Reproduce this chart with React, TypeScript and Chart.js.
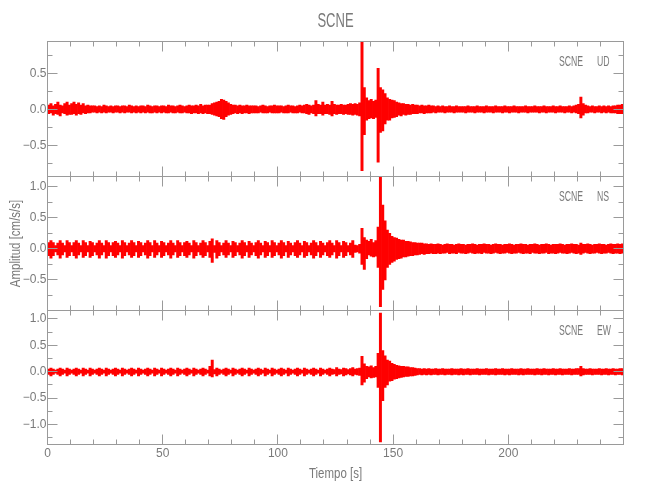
import React, { useEffect, useRef } from "react";
import { Chart, registerables } from "chart.js";

Chart.register(...registerables);

// ---------- data (1-second bins, lower / upper trace envelope, cm/s/s) ----------
const STATION = "SCNE";
const COMPONENTS = ["UD", "NS", "EW"];
const TITLE_X = "Tiempo [s]";
const TITLE_Y = "Amplitud [cm/s/s]";
const TIME_START = 0; // s
const BIN_SECONDS = 1; // s
const X_MIN = 0;
const X_MAX = 250;
const X_LAST_LABEL = 200;
const X_TICK_STEP = 50;
const Y_TICK_STEP = 0.5;

const UD_HI = [
  .06,.08,.05,.07,.10,.06,.05,.08,.10,.06,
  .08,.10,.07,.09,.06,.08,.05,.06,.05,.05,
  .05,.04,.05,.04,.06,.05,.04,.05,.04,.05,
  .05,.04,.05,.05,.04,.06,.05,.04,.05,.04,
  .05,.05,.04,.06,.05,.04,.05,.05,.04,.05,
  .05,.04,.06,.05,.05,.04,.05,.06,.05,.04,
  .05,.06,.05,.05,.06,.05,.07,.05,.06,.06,
  .06,.08,.09,.10,.11,.14,.13,.11,.09,.07,
  .06,.06,.05,.06,.05,.05,.06,.05,.05,.05,
  .05,.04,.05,.06,.05,.04,.05,.05,.06,.05,
  .05,.05,.04,.05,.06,.05,.05,.04,.05,.06,
  .05,.06,.07,.06,.05,.06,.12,.07,.06,.10,
  .06,.07,.06,.11,.07,.06,.06,.07,.06,.06,
  .07,.08,.07,.08,.07,.09,.93,.30,.16,.12,
  .14,.11,.13,.57,.30,.27,.22,.16,.14,.13,
  .12,.10,.09,.08,.08,.07,.07,.06,.07,.06,
  .06,.05,.06,.05,.05,.06,.05,.05,.04,.05,
  .04,.05,.04,.04,.05,.04,.04,.05,.04,.04,
  .04,.04,.05,.04,.04,.04,.05,.04,.04,.04,
  .05,.04,.04,.04,.05,.04,.04,.04,.05,.04,
  .04,.04,.05,.04,.04,.04,.04,.05,.04,.04,
  .04,.05,.04,.04,.04,.05,.04,.04,.04,.05,
  .04,.04,.05,.04,.04,.04,.05,.04,.05,.06,
  .07,.17,.08,.06,.05,.04,.05,.04,.04,.05,
  .04,.05,.04,.05,.04,.05,.05,.06,.06,.07,
];
const UD_LO = [
  -.06,-.05,-.08,-.06,-.07,-.09,-.05,-.06,-.08,-.07,
  -.07,-.06,-.08,-.06,-.07,-.05,-.06,-.05,-.05,-.04,
  -.04,-.05,-.04,-.05,-.04,-.05,-.04,-.04,-.05,-.04,
  -.04,-.05,-.04,-.05,-.04,-.04,-.05,-.04,-.05,-.04,
  -.05,-.04,-.05,-.04,-.05,-.05,-.04,-.05,-.04,-.05,
  -.04,-.05,-.05,-.04,-.05,-.05,-.04,-.05,-.05,-.04,
  -.05,-.05,-.06,-.05,-.05,-.06,-.05,-.06,-.05,-.06,
  -.06,-.07,-.08,-.09,-.10,-.13,-.14,-.10,-.08,-.07,
  -.06,-.05,-.06,-.05,-.06,-.05,-.05,-.06,-.05,-.05,
  -.05,-.05,-.04,-.05,-.05,-.05,-.04,-.05,-.05,-.05,
  -.05,-.04,-.05,-.05,-.05,-.04,-.05,-.05,-.05,-.04,
  -.05,-.05,-.06,-.07,-.05,-.06,-.09,-.06,-.06,-.08,
  -.06,-.06,-.07,-.09,-.06,-.07,-.06,-.06,-.07,-.06,
  -.07,-.07,-.08,-.07,-.08,-.09,-.85,-.35,-.15,-.13,
  -.12,-.13,-.11,-.73,-.32,-.30,-.20,-.15,-.15,-.12,
  -.11,-.10,-.08,-.09,-.07,-.08,-.07,-.07,-.06,-.06,
  -.06,-.05,-.05,-.06,-.05,-.05,-.05,-.04,-.05,-.04,
  -.04,-.04,-.05,-.04,-.04,-.04,-.05,-.04,-.04,-.04,
  -.04,-.05,-.04,-.04,-.04,-.05,-.04,-.04,-.04,-.05,
  -.04,-.04,-.04,-.05,-.04,-.04,-.04,-.05,-.04,-.04,
  -.05,-.04,-.04,-.04,-.05,-.04,-.04,-.04,-.05,-.04,
  -.04,-.04,-.04,-.05,-.04,-.04,-.05,-.04,-.04,-.04,
  -.05,-.04,-.04,-.04,-.05,-.04,-.04,-.05,-.04,-.05,
  -.06,-.12,-.08,-.05,-.05,-.04,-.04,-.05,-.04,-.04,
  -.05,-.04,-.05,-.04,-.05,-.05,-.05,-.06,-.06,-.06,
];
const NS_HI = [
  .10,.13,.10,.05,.09,.13,.09,.05,.13,.10,
  .05,.10,.13,.09,.05,.13,.10,.05,.12,.10,
  .05,.09,.13,.09,.05,.13,.10,.05,.10,.12,
  .09,.05,.13,.10,.05,.09,.13,.10,.05,.12,
  .10,.05,.09,.13,.10,.05,.13,.09,.05,.12,
  .10,.05,.09,.13,.09,.05,.13,.10,.05,.10,
  .12,.09,.05,.13,.10,.05,.09,.13,.10,.05,
  .12,.16,.05,.13,.10,.05,.09,.13,.09,.05,
  .12,.10,.05,.09,.13,.10,.05,.12,.09,.05,
  .10,.13,.09,.05,.12,.10,.05,.13,.10,.05,
  .09,.13,.10,.05,.12,.09,.05,.10,.13,.09,
  .05,.12,.10,.05,.09,.13,.10,.05,.12,.09,
  .05,.10,.13,.09,.05,.13,.10,.05,.12,.10,
  .05,.09,.13,.06,.05,.07,.33,.18,.14,.12,
  .15,.10,.13,.35,1.15,.70,.45,.30,.25,.20,
  .18,.17,.15,.14,.14,.12,.12,.11,.10,.10,
  .09,.09,.09,.08,.08,.07,.08,.07,.07,.08,
  .07,.06,.07,.08,.07,.07,.06,.07,.08,.07,
  .07,.06,.07,.07,.08,.07,.06,.07,.07,.08,
  .07,.07,.06,.07,.08,.07,.07,.06,.07,.07,
  .08,.07,.06,.07,.07,.08,.07,.07,.06,.07,
  .07,.08,.07,.06,.07,.07,.08,.07,.06,.07,
  .07,.07,.08,.07,.06,.07,.07,.08,.07,.07,
  .06,.09,.07,.07,.08,.07,.06,.07,.07,.08,
  .07,.07,.06,.07,.08,.07,.07,.08,.07,.08,
];
const NS_LO = [
  -.11,-.15,-.11,-.05,-.10,-.15,-.10,-.05,-.14,-.11,
  -.05,-.11,-.15,-.10,-.05,-.14,-.11,-.05,-.14,-.11,
  -.05,-.10,-.15,-.10,-.05,-.15,-.11,-.05,-.11,-.14,
  -.10,-.05,-.15,-.11,-.05,-.10,-.14,-.11,-.05,-.14,
  -.11,-.05,-.10,-.15,-.11,-.05,-.14,-.10,-.05,-.14,
  -.11,-.05,-.10,-.15,-.10,-.05,-.14,-.11,-.05,-.11,
  -.14,-.10,-.05,-.15,-.11,-.05,-.10,-.14,-.11,-.05,
  -.14,-.22,-.06,-.15,-.11,-.05,-.10,-.14,-.10,-.05,
  -.14,-.11,-.05,-.10,-.15,-.11,-.05,-.14,-.10,-.05,
  -.11,-.15,-.10,-.05,-.14,-.11,-.05,-.14,-.11,-.05,
  -.10,-.15,-.11,-.05,-.14,-.10,-.05,-.11,-.14,-.10,
  -.05,-.14,-.11,-.05,-.10,-.15,-.11,-.05,-.14,-.10,
  -.05,-.11,-.14,-.10,-.05,-.15,-.11,-.05,-.14,-.11,
  -.05,-.10,-.14,-.06,-.05,-.07,-.25,-.33,-.16,-.10,
  -.12,-.13,-.12,-.30,-.93,-.65,-.50,-.30,-.25,-.22,
  -.20,-.17,-.16,-.15,-.13,-.13,-.12,-.11,-.11,-.10,
  -.10,-.09,-.08,-.09,-.08,-.08,-.07,-.08,-.08,-.07,
  -.08,-.07,-.07,-.06,-.08,-.07,-.07,-.08,-.06,-.07,
  -.07,-.08,-.07,-.06,-.07,-.08,-.07,-.07,-.08,-.06,
  -.07,-.07,-.08,-.07,-.06,-.07,-.08,-.07,-.07,-.06,
  -.07,-.08,-.07,-.07,-.06,-.07,-.08,-.07,-.07,-.08,
  -.06,-.07,-.07,-.08,-.07,-.07,-.06,-.08,-.07,-.07,
  -.08,-.07,-.06,-.07,-.07,-.08,-.07,-.06,-.07,-.08,
  -.07,-.09,-.07,-.06,-.07,-.08,-.07,-.07,-.06,-.07,
  -.08,-.07,-.07,-.06,-.07,-.08,-.07,-.07,-.08,-.07,
];
const EW_HI = [
  .05,.07,.05,.03,.05,.07,.05,.03,.07,.05,
  .03,.05,.07,.05,.03,.07,.05,.03,.07,.05,
  .03,.05,.07,.05,.03,.07,.05,.03,.05,.07,
  .05,.03,.07,.05,.03,.05,.07,.05,.03,.07,
  .05,.03,.05,.07,.05,.03,.07,.05,.03,.07,
  .05,.03,.05,.07,.05,.03,.07,.05,.03,.05,
  .07,.05,.03,.07,.05,.03,.05,.07,.05,.03,
  .10,.22,.04,.07,.05,.03,.05,.07,.05,.03,
  .07,.05,.03,.05,.07,.05,.03,.07,.05,.03,
  .05,.07,.05,.03,.07,.05,.03,.07,.05,.03,
  .05,.07,.05,.03,.07,.05,.03,.05,.07,.05,
  .03,.07,.05,.03,.05,.07,.05,.03,.07,.05,
  .03,.05,.07,.05,.04,.08,.05,.04,.07,.06,
  .04,.06,.08,.05,.06,.07,.29,.15,.10,.09,
  .11,.08,.10,.35,1.11,.40,.30,.22,.20,.16,
  .14,.12,.11,.10,.10,.09,.09,.08,.08,.07,
  .06,.06,.05,.06,.05,.06,.05,.05,.06,.05,
  .05,.06,.05,.05,.05,.06,.05,.05,.05,.06,
  .05,.05,.06,.05,.05,.05,.06,.05,.05,.05,
  .06,.05,.05,.05,.06,.05,.05,.06,.05,.05,
  .05,.06,.05,.05,.05,.06,.05,.05,.06,.05,
  .05,.05,.06,.05,.05,.06,.05,.05,.05,.06,
  .05,.05,.06,.05,.05,.05,.06,.05,.05,.06,
  .06,.10,.06,.05,.05,.06,.05,.05,.05,.06,
  .05,.05,.06,.05,.05,.06,.05,.05,.06,.06,
];
const EW_LO = [
  -.05,-.08,-.05,-.03,-.05,-.08,-.05,-.03,-.08,-.05,
  -.03,-.05,-.08,-.05,-.03,-.08,-.05,-.03,-.08,-.05,
  -.03,-.05,-.08,-.05,-.03,-.08,-.05,-.03,-.05,-.08,
  -.05,-.03,-.08,-.05,-.03,-.05,-.08,-.05,-.03,-.08,
  -.05,-.03,-.05,-.08,-.05,-.03,-.08,-.05,-.03,-.08,
  -.05,-.03,-.05,-.08,-.05,-.03,-.08,-.05,-.03,-.05,
  -.08,-.05,-.03,-.08,-.05,-.03,-.05,-.08,-.05,-.03,
  -.08,-.10,-.04,-.08,-.05,-.03,-.05,-.08,-.05,-.03,
  -.08,-.05,-.03,-.05,-.08,-.05,-.03,-.08,-.05,-.03,
  -.05,-.08,-.05,-.03,-.08,-.05,-.03,-.08,-.05,-.03,
  -.05,-.08,-.05,-.03,-.08,-.05,-.03,-.05,-.08,-.05,
  -.03,-.08,-.05,-.03,-.05,-.08,-.05,-.03,-.08,-.05,
  -.03,-.05,-.08,-.05,-.04,-.08,-.05,-.04,-.08,-.06,
  -.04,-.06,-.08,-.05,-.06,-.07,-.25,-.20,-.13,-.10,
  -.12,-.11,-.10,-.30,-1.33,-.55,-.30,-.25,-.18,-.17,
  -.14,-.13,-.12,-.11,-.10,-.09,-.09,-.08,-.08,-.07,
  -.06,-.05,-.06,-.05,-.06,-.05,-.06,-.05,-.05,-.06,
  -.05,-.05,-.06,-.05,-.05,-.06,-.05,-.05,-.06,-.05,
  -.06,-.05,-.05,-.06,-.05,-.05,-.05,-.06,-.05,-.05,
  -.05,-.06,-.05,-.05,-.06,-.05,-.05,-.05,-.06,-.05,
  -.06,-.05,-.05,-.05,-.06,-.05,-.06,-.05,-.05,-.05,
  -.05,-.06,-.05,-.05,-.06,-.05,-.05,-.06,-.05,-.05,
  -.06,-.05,-.05,-.06,-.05,-.05,-.05,-.06,-.05,-.05,
  -.05,-.08,-.06,-.05,-.05,-.05,-.06,-.05,-.05,-.05,
  -.06,-.05,-.05,-.06,-.05,-.05,-.06,-.05,-.05,-.06,
];
const UD_RANGE = [-0.93, 0.94];
const NS_RANGE = [-0.99, 1.16];
const EW_RANGE = [-1.38, 1.16];

// ---------- layout / style ----------
const W = 650;
const H = 500;
const LEFT = 47.5;
const RIGHT = 623.5;
const EDGES = [41.5, 176.5, 310.5, 444.5];
const X_AXIS_H = 41;
const RED = "#ff0000";
const AXIS = "#9a9a9a";
const TEXT = "#7a7a7a";
const FONT = '"Liberation Sans", Arial, sans-serif';
const CAPS_SQUEEZE = 0.62;
const TEXT_SQUEEZE = 0.82;

function buildBins(hi: number[], lo: number[]) {
  return hi.map((h, i) => ({
    x: TIME_START + (i + 0.5) * BIN_SECONDS,
    y: [lo[i], h],
  }));
}

function fmt(v: number) {
  return (v < -1e-9 ? "\u2212" : "") + Math.abs(v).toFixed(1);
}

function squeezedText(
  ctx: CanvasRenderingContext2D,
  text: string,
  x: number,
  y: number,
  size: number,
  align: CanvasTextAlign,
  squeeze: number,
  rotate = 0
) {
  ctx.save();
  ctx.translate(x, y);
  if (rotate) ctx.rotate(rotate);
  ctx.scale(squeeze, 1);
  ctx.font = `${size}px ${FONT}`;
  ctx.fillStyle = TEXT;
  ctx.textAlign = align;
  ctx.textBaseline = "alphabetic";
  ctx.fillText(text, 0, 0);
  ctx.restore();
}

const framePlugin = {
  id: "seisFrame",
  afterDatasetsDraw(chart: any, _args: any, opts: any) {
    const { ctx, chartArea: a } = chart;
    const x = chart.scales.x;
    const y = chart.scales.y;
    ctx.save();
    ctx.strokeStyle = AXIS;
    ctx.lineWidth = 1;
    ctx.strokeRect(a.left, a.top, a.right - a.left, a.bottom - a.top);
    ctx.beginPath();
    for (let k = 0; k * 10 <= x.max; k++) {
      const v = k * 10;
      const px = Math.round(x.getPixelForValue(v) - 0.5) + 0.5;
      const len = v % 50 === 0 ? 10 : 5;
      ctx.moveTo(px, a.top);
      ctx.lineTo(px, a.top + len);
      ctx.moveTo(px, a.bottom);
      ctx.lineTo(px, a.bottom - len);
    }
    for (let k = Math.ceil(y.min / 0.25); k * 0.25 <= y.max; k++) {
      const v = k * 0.25;
      const py = Math.round(y.getPixelForValue(v) - 0.5) + 0.5;
      const len = k % 2 === 0 ? 10 : 5;
      ctx.moveTo(a.left, py);
      ctx.lineTo(a.left + len, py);
      ctx.moveTo(a.right, py);
      ctx.lineTo(a.right - len, py);
    }
    ctx.stroke();
    ctx.restore();

    squeezedText(ctx, STATION, 559, a.top + 24.5, 14, "left", CAPS_SQUEEZE);
    squeezedText(ctx, opts.component, 597, a.top + 24.5, 14, "left", CAPS_SQUEEZE);
    if (opts.showTitle) {
      squeezedText(ctx, STATION, (a.left + a.right) / 2, 27, 21, "center", CAPS_SQUEEZE);
    }
    if (opts.showYTitle) {
      squeezedText(ctx, TITLE_Y, 20, (a.top + a.bottom) / 2, 14, "center", TEXT_SQUEEZE, -Math.PI / 2);
    }
    if (opts.showXTitle) {
      squeezedText(ctx, TITLE_X, (a.left + a.right) / 2, 478, 14, "center", TEXT_SQUEEZE);
    }
  },
};

function makeConfig(index: number): any {
  const hi = [UD_HI, NS_HI, EW_HI][index];
  const lo = [UD_LO, NS_LO, EW_LO][index];
  const range = [UD_RANGE, NS_RANGE, EW_RANGE][index];
  const isBottom = index === 2;
  const top = EDGES[index];
  const bottom = EDGES[index + 1];
  const tickFont = { family: FONT, size: 12 };
  return {
    type: "bar",
    data: {
      datasets: [
        {
          label: `${STATION} ${COMPONENTS[index]}`,
          data: buildBins(hi, lo),
          backgroundColor: RED,
          borderWidth: 0,
          barPercentage: 1,
          categoryPercentage: 1,
          grouped: false,
        },
      ],
    },
    options: {
      responsive: false,
      animation: false,
      devicePixelRatio: 1,
      events: [],
      layout: {
        padding: {
          left: 0,
          right: W - RIGHT,
          top: top,
          bottom: isBottom ? H - bottom - X_AXIS_H : H - bottom,
        },
      },
      plugins: {
        legend: { display: false },
        tooltip: { enabled: false },
        title: { display: false },
        seisFrame: {
          component: COMPONENTS[index],
          showTitle: index === 0,
          showYTitle: index === 1,
          showXTitle: isBottom,
        },
      },
      scales: {
        x: {
          type: "linear",
          min: X_MIN,
          max: X_MAX,
          offset: false,
          display: isBottom,
          grid: { display: false, drawTicks: false, offset: false },
          border: { display: false },
          ticks: {
            stepSize: X_TICK_STEP,
            includeBounds: false,
            padding: 2,
            maxRotation: 0,
            autoSkip: false,
            color: TEXT,
            font: tickFont,
            callback: (v: number) => String(v),
          },
          afterBuildTicks: (s: any) => {
            s.ticks = s.ticks.filter((t: any) => t.value <= X_LAST_LABEL);
          },
          afterFit: isBottom
            ? (s: any) => {
                s.height = X_AXIS_H;
              }
            : undefined,
        },
        y: {
          type: "linear",
          min: range[0],
          max: range[1],
          grid: { display: false, drawTicks: false },
          border: { display: false },
          ticks: {
            stepSize: Y_TICK_STEP,
            includeBounds: false,
            padding: 1,
            color: TEXT,
            font: tickFont,
            callback: (v: number) => fmt(v),
          },
          afterFit: (s: any) => {
            s.width = LEFT;
          },
        },
      },
    },
    plugins: [framePlugin],
  };
}

export default function App() {
  const r0 = useRef<HTMLCanvasElement | null>(null);
  const r1 = useRef<HTMLCanvasElement | null>(null);
  const r2 = useRef<HTMLCanvasElement | null>(null);

  useEffect(() => {
    const refs = [r0, r1, r2];
    const charts = refs.map((r, i) => new Chart(r.current as HTMLCanvasElement, makeConfig(i)));
    return () => charts.forEach((c) => c.destroy());
  }, []);

  const cs: React.CSSProperties = { position: "absolute", left: 0, top: 0, width: W, height: H };
  return (
    <div style={{ position: "fixed", left: 0, top: 0, width: W, height: H, background: "#fff" }}>
      <canvas ref={r0} width={W} height={H} style={cs} />
      <canvas ref={r1} width={W} height={H} style={cs} />
      <canvas ref={r2} width={W} height={H} style={cs} />
    </div>
  );
}
